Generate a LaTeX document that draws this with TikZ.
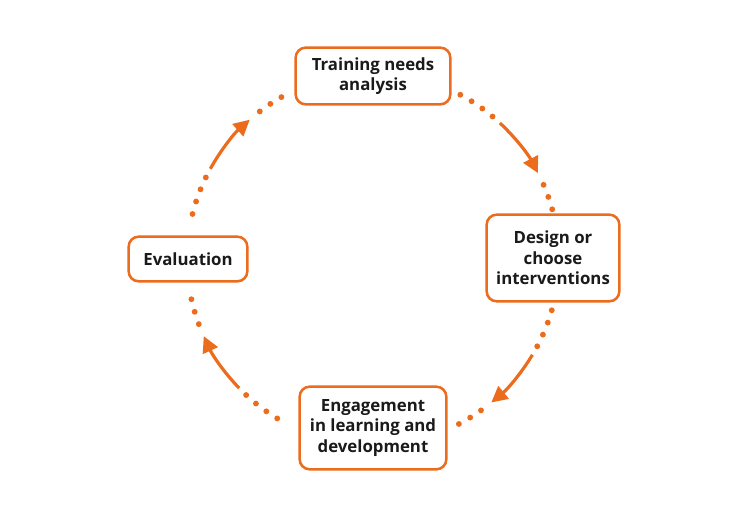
\documentclass[tikz,border=0pt]{standalone}
\usepackage{fontspec}
\setmainfont{Open Sans}
\usetikzlibrary{arrows.meta}
\definecolor{cycleorange}{RGB}{236,108,30}
\definecolor{boxtext}{RGB}{26,26,26}
\tikzset{
  stage/.style={draw=cycleorange, line width=1.9pt, rounded corners=7.5pt, fill=white,
    align=center, text=boxtext, inner sep=0pt,
    font=\fontsize{12.6}{15.4}\selectfont\bfseries},
  flow/.style={draw=cycleorange, line width=2.4pt, -{Triangle[length=12pt,width=12pt]}},
  dot/.style={fill=cycleorange}
}
\begin{document}
\begin{tikzpicture}[x=0.75pt,y=0.75pt]
        \useasboundingbox (0,0) rectangle (750,520);
        \coordinate (hub) at (373,261);
        \node[stage, minimum width=116pt, minimum height=42.5pt] (tna) at (373,444) {Training needs\\analysis};
        \node[stage, minimum width=99.5pt, minimum height=65pt] (design) at (553,262) {Design or\\choose\\interventions};
        \node[stage, minimum width=110pt, minimum height=62pt] (engage) at (373,92) {Engagement\\in learning and\\development};
        \node[stage, minimum width=89pt, minimum height=33.5pt] (eval) at (188,261) {Evaluation};
        % one dotted-solid-dotted arc after each stage, going clockwise
        \foreach \a in {62,-16,239,166} {
            \foreach \k in {0,4,8,12}
                \fill[dot] ([shift={(\a-\k:186)}]hub) circle[radius=2.2pt];
            \draw[flow] ([shift={(\a-15:186)}]hub) arc[start angle=\a-15, end angle=\a-34.5, radius=139.5pt];
            \foreach \k in {38.5,42.5,46.5}
                \fill[dot] ([shift={(\a-\k:186)}]hub) circle[radius=2.2pt];
        }
    \end{tikzpicture}
\end{document}
